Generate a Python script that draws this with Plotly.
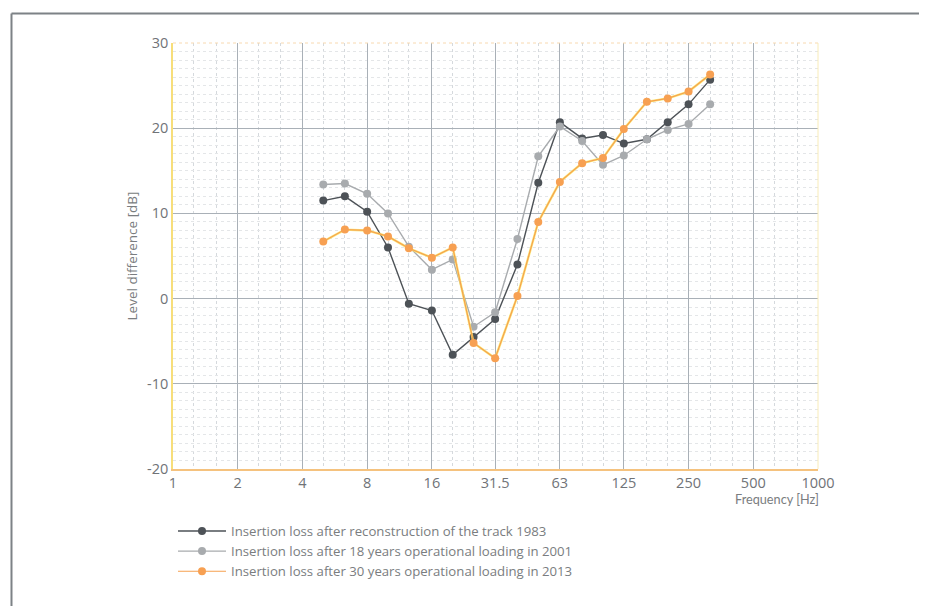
import plotly.graph_objects as go

freq = [5, 6.3, 8, 10, 12.5, 16, 20, 25, 31.5, 40, 50, 63, 80, 100, 125, 160, 200, 250, 315]
loss_1983 = [11.5, 12.0, 10.2, 6.0, -0.6, -1.4, -6.6, -4.5, -2.4, 4.0, 13.6, 20.7, 18.8, 19.2, 18.2, 18.7, 20.7, 22.8, 25.7]
loss_2001 = [13.4, 13.5, 12.3, 10.0, 6.1, 3.4, 4.6, -3.3, -1.6, 7.0, 16.7, 20.2, 18.5, 15.7, 16.8, 18.7, 19.8, 20.5, 22.8]
loss_2013 = [6.7, 8.1, 8.0, 7.3, 5.9, 4.8, 6.0, -5.2, -7.0, 0.3, 9.0, 13.7, 15.9, 16.5, 19.9, 23.1, 23.5, 24.3, 26.3]

x_ticks = [1, 2, 4, 8, 16, 31.5, 63, 125, 250, 500, 1000]
x_ticktext = ["1", "2", "4", "8", "16", "31.5", "63", "125", "250", "500", "1000"]
x_minor = [1.25, 1.6, 2.5, 3.15, 5, 6.3, 10, 12.5, 20, 25, 40, 50, 80, 100, 160, 200, 315, 400, 630, 800]
y_ticks = [-20, -10, 0, 10, 20, 30]
y_ticktext = ["-20", "-10", "0", "10", "20", "30"]

names = [
    "Insertion loss after reconstruction of the track 1983",
    "Insertion loss after 18 years operational loading in 2001",
    "Insertion loss after 30 years operational loading in 2013",
]

fig = go.Figure()
fig.add_trace(go.Scatter(x=freq, y=loss_1983, mode="lines+markers", name=names[0],
                         line=dict(color="#4d5257", width=1.4),
                         marker=dict(color="#4d5257", size=8)))
fig.add_trace(go.Scatter(x=freq, y=loss_2001, mode="lines+markers", name=names[1],
                         line=dict(color="#a8abae", width=1.4),
                         marker=dict(color="#a8abae", size=8)))
fig.add_trace(go.Scatter(x=freq, y=loss_2013, mode="lines", showlegend=False, hoverinfo="skip",
                         line=dict(color="rgba(250,232,100,0.85)", width=2.4)))
fig.add_trace(go.Scatter(x=freq, y=loss_2013, mode="lines+markers", name=names[2],
                         line=dict(color="#f6a04f", width=1.2),
                         marker=dict(color="#f7a052", size=8)))

fnt = "'Open Sans', Lato, sans-serif"
txt = "#707377"

fig.update_layout(
    width=919, height=598,
    margin=dict(l=165, r=109, t=35, b=137, autoexpand=False),
    paper_bgcolor="white", plot_bgcolor="white",
    font=dict(family=fnt, color=txt, size=14),
    showlegend=True,
    legend=dict(x=0.0, y=-0.11, xanchor="left", yanchor="top",
                font=dict(size=13.2, color="#7a7d80", family=fnt),
                itemwidth=48, tracegroupgap=0, bgcolor="rgba(0,0,0,0)"),
    xaxis=dict(type="log", range=[0, 3], tickvals=x_ticks, ticktext=x_ticktext,
               showgrid=True, gridcolor="#a9b0b7", gridwidth=1.2,
               showline=True, linecolor="#f5c27e", linewidth=1.5, mirror=False,
               ticks="", zeroline=False,
               tickfont=dict(size=14.5, color=txt),
               minor=dict(tickvals=x_minor, showgrid=True, gridcolor="#d5d9dd",
                          griddash="dot", gridwidth=1, ticks="")),
    yaxis=dict(range=[-20, 30], tickvals=y_ticks, ticktext=y_ticktext,
               showgrid=True, gridcolor="#a9b0b7", gridwidth=1.2,
               showline=True, linecolor="#f7de7a", linewidth=1.5,
               ticks="", zeroline=False,
               tickfont=dict(size=14.5, color=txt),
               title=dict(text="Level difference [dB]", font=dict(size=13.5, color="#7a7d80"), standoff=6),
               minor=dict(dtick=1, showgrid=True, gridcolor="#e4e6e8",
                          griddash="dot", gridwidth=1, ticks="")),
)

# faint top and right borders of plotting area
fig.add_shape(type="line", xref="paper", yref="paper", x0=0, x1=1, y0=1, y1=1,
              line=dict(color="#f8d9b0", width=1, dash="dot"))
fig.add_shape(type="line", xref="paper", yref="paper", x0=1, x1=1, y0=0, y1=1,
              line=dict(color="#f9ecb8", width=1))

# outer frame
fig.add_shape(type="line", xref="paper", yref="paper", x0=-0.2504, x1=1.2, y0=1.0692, y1=1.0692,
              line=dict(color="#7d8286", width=2))
fig.add_shape(type="line", xref="paper", yref="paper", x0=-0.2504, x1=-0.2504, y0=1.0692, y1=-0.35,
              line=dict(color="#7d8286", width=2))

fig.add_annotation(text="Frequency [Hz]", xref="paper", yref="paper", x=1.004, y=-0.07,
                   xanchor="right", yanchor="middle", showarrow=False,
                   font=dict(size=12.7, color="#7a7d80", family="Lato, sans-serif"))

fig.write_html("out.html")
